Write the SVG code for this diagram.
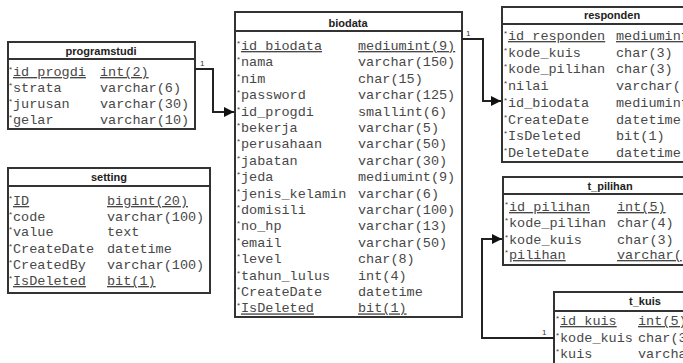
<svg xmlns="http://www.w3.org/2000/svg" width="683" height="363" viewBox="0 0 683 363">
<defs>
<marker id="arr" viewBox="0 0 10 10" refX="10" refY="5" markerWidth="11" markerHeight="10" markerUnits="userSpaceOnUse" orient="auto">
<path d="M0,0 L10,5 L0,10 z" fill="#111"/>
</marker>
</defs>
<style>
.box{fill:#fff;stroke:#333;stroke-width:2}
.sep{stroke:#333;stroke-width:2}
.title{font-family:"Liberation Sans",Arial,sans-serif;font-size:11px;font-weight:bold;fill:#222;text-anchor:middle}
.f{font-family:"Liberation Mono","Courier New",monospace;font-size:13.5px;fill:#484848}
.u{text-decoration:underline}
.ast{font-family:"Liberation Sans",Arial,sans-serif;font-size:8px;fill:#444}
.conn{fill:none;stroke:#222;stroke-width:2}
.lbl{font-family:"Liberation Sans",Arial,sans-serif;font-size:8px;fill:#333}
</style>
<rect width="683" height="363" fill="#fff"/>

<g id="programstudi">
<rect class="box" x="8" y="42" width="187" height="87"/>
<line class="sep" x1="8" y1="59" x2="195" y2="59"/>
<text class="title" x="101" y="55">programstudi</text>
<text class="ast" x="9" y="72">*</text><text class="f u" x="13" y="76">id_progdi</text><text class="f u" x="100" y="76">int(2)</text>
<text class="ast" x="9" y="88">*</text><text class="f" x="13" y="92">strata</text><text class="f" x="100" y="92">varchar(6)</text>
<text class="ast" x="9" y="104">*</text><text class="f" x="13" y="108">jurusan</text><text class="f" x="100" y="108">varchar(30)</text>
<text class="ast" x="9" y="120">*</text><text class="f" x="13" y="124">gelar</text><text class="f" x="100" y="124">varchar(10)</text>
</g>

<g id="setting">
<rect class="box" x="8" y="168" width="202" height="125"/>
<line class="sep" x1="8" y1="186" x2="210" y2="186"/>
<text class="title" x="109" y="181">setting</text>
<text class="ast" x="9" y="201">*</text><text class="f u" x="13" y="205">ID</text><text class="f u" x="107" y="205">bigint(20)</text>
<text class="ast" x="9" y="217">*</text><text class="f" x="13" y="221">code</text><text class="f" x="107" y="221">varchar(100)</text>
<text class="ast" x="9" y="232">*</text><text class="f" x="13" y="236">value</text><text class="f" x="107" y="236">text</text>
<text class="ast" x="9" y="249">*</text><text class="f" x="13" y="253">CreateDate</text><text class="f" x="107" y="253">datetime</text>
<text class="ast" x="9" y="265">*</text><text class="f" x="13" y="269">CreatedBy</text><text class="f" x="107" y="269">varchar(100)</text>
<text class="ast" x="9" y="281">*</text><text class="f u" x="13" y="285">IsDeleted</text><text class="f u" x="107" y="285">bit(1)</text>
</g>

<g id="biodata">
<rect class="box" x="235" y="12" width="227" height="305"/>
<line class="sep" x1="235" y1="31" x2="462" y2="31"/>
<text class="title" x="348" y="27">biodata</text>
<text class="ast" x="237" y="46">*</text><text class="f u" x="241" y="50">id_biodata</text><text class="f u" x="358" y="50">mediumint(9)</text>
<text class="ast" x="237" y="62.4">*</text><text class="f" x="241" y="66.4">nama</text><text class="f" x="358" y="66.4">varchar(150)</text>
<text class="ast" x="237" y="78.8">*</text><text class="f" x="241" y="82.8">nim</text><text class="f" x="358" y="82.8">char(15)</text>
<text class="ast" x="237" y="95.2">*</text><text class="f" x="241" y="99.2">password</text><text class="f" x="358" y="99.2">varchar(125)</text>
<text class="ast" x="237" y="111.6">*</text><text class="f" x="241" y="115.6">id_progdi</text><text class="f" x="358" y="115.6">smallint(6)</text>
<text class="ast" x="237" y="128">*</text><text class="f" x="241" y="132">bekerja</text><text class="f" x="358" y="132">varchar(5)</text>
<text class="ast" x="237" y="144.4">*</text><text class="f" x="241" y="148.4">perusahaan</text><text class="f" x="358" y="148.4">varchar(50)</text>
<text class="ast" x="237" y="160.8">*</text><text class="f" x="241" y="164.8">jabatan</text><text class="f" x="358" y="164.8">varchar(30)</text>
<text class="ast" x="237" y="177.2">*</text><text class="f" x="241" y="181.2">jeda</text><text class="f" x="358" y="181.2">mediumint(9)</text>
<text class="ast" x="237" y="193.6">*</text><text class="f" x="241" y="197.6">jenis_kelamin</text><text class="f" x="358" y="197.6">varchar(6)</text>
<text class="ast" x="237" y="210">*</text><text class="f" x="241" y="214">domisili</text><text class="f" x="358" y="214">varchar(100)</text>
<text class="ast" x="237" y="226.4">*</text><text class="f" x="241" y="230.4">no_hp</text><text class="f" x="358" y="230.4">varchar(13)</text>
<text class="ast" x="237" y="242.8">*</text><text class="f" x="241" y="246.8">email</text><text class="f" x="358" y="246.8">varchar(50)</text>
<text class="ast" x="237" y="259.2">*</text><text class="f" x="241" y="263.2">level</text><text class="f" x="358" y="263.2">char(8)</text>
<text class="ast" x="237" y="275.6">*</text><text class="f" x="241" y="279.6">tahun_lulus</text><text class="f" x="358" y="279.6">int(4)</text>
<text class="ast" x="237" y="292">*</text><text class="f" x="241" y="296">CreateDate</text><text class="f" x="358" y="296">datetime</text>
<text class="ast" x="237" y="308.4">*</text><text class="f u" x="241" y="312.4">IsDeleted</text><text class="f u" x="358" y="312.4">bit(1)</text>
</g>

<g id="responden">
<rect class="box" x="502" y="7" width="220" height="155"/>
<line class="sep" x1="502" y1="24" x2="722" y2="24"/>
<text class="title" x="612" y="19">responden</text>
<text class="ast" x="504" y="36">*</text><text class="f u" x="508" y="40">id_responden</text><text class="f u" x="616" y="40">mediumint(9)</text>
<text class="ast" x="504" y="52.7">*</text><text class="f" x="508" y="56.7">kode_kuis</text><text class="f" x="616" y="56.7">char(3)</text>
<text class="ast" x="504" y="69.4">*</text><text class="f" x="508" y="73.4">kode_pilihan</text><text class="f" x="616" y="73.4">char(3)</text>
<text class="ast" x="504" y="86.1">*</text><text class="f" x="508" y="90.1">nilai</text><text class="f" x="616" y="90.1">varchar(</text>
<text class="ast" x="504" y="102.8">*</text><text class="f" x="508" y="106.8">id_biodata</text><text class="f" x="616" y="106.8">mediumint(9)</text>
<text class="ast" x="504" y="119.5">*</text><text class="f" x="508" y="123.5">CreateDate</text><text class="f" x="616" y="123.5">datetime</text>
<text class="ast" x="504" y="136.2">*</text><text class="f" x="508" y="140.2">IsDeleted</text><text class="f" x="616" y="140.2">bit(1)</text>
<text class="ast" x="504" y="152.9">*</text><text class="f" x="508" y="156.9">DeleteDate</text><text class="f" x="616" y="156.9">datetime</text>
</g>

<g id="t_pilihan">
<rect class="box" x="503" y="177" width="214" height="88"/>
<line class="sep" x1="503" y1="194" x2="717" y2="194"/>
<text class="title" x="610" y="190">t_pilihan</text>
<text class="ast" x="505" y="207">*</text><text class="f u" x="509" y="211">id_pilihan</text><text class="f u" x="617" y="211">int(5)</text>
<text class="ast" x="505" y="223">*</text><text class="f" x="509" y="227">kode_pilihan</text><text class="f" x="617" y="227">char(4)</text>
<text class="ast" x="505" y="240">*</text><text class="f" x="509" y="244">kode_kuis</text><text class="f" x="617" y="244">char(3)</text>
<text class="ast" x="505" y="255">*</text><text class="f u" x="509" y="259">pilihan</text><text class="f u" x="617" y="259">varchar(</text>
</g>

<g id="t_kuis">
<rect class="box" x="554" y="292" width="182" height="90"/>
<line class="sep" x1="554" y1="311" x2="736" y2="311"/>
<text class="title" x="645" y="305">t_kuis</text>
<text class="ast" x="556" y="321">*</text><text class="f u" x="560" y="325">id_kuis</text><text class="f u" x="638" y="325">int(5)</text>
<text class="ast" x="556" y="338">*</text><text class="f" x="560" y="342">kode_kuis</text><text class="f" x="638" y="342">char(3)</text>
<text class="ast" x="556" y="354">*</text><text class="f" x="560" y="358">kuis</text><text class="f" x="638" y="358">varchar</text>
</g>

<g id="connectors">
<path class="conn" d="M195,69 H213 V112 H234" marker-end="url(#arr)"/>
<text class="lbl" x="200" y="66">1</text>
<path class="conn" d="M462,39 H483 V101 H501" marker-end="url(#arr)"/>
<text class="lbl" x="466" y="36">1</text>
<path class="conn" d="M554,338 H482 V239 H502" marker-end="url(#arr)"/>
<text class="lbl" x="542" y="335">1</text>
</g>
</svg>
